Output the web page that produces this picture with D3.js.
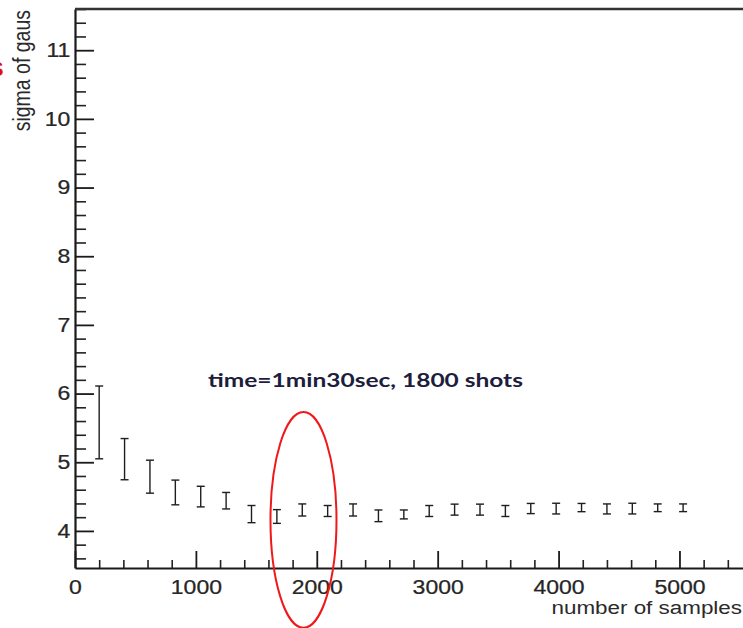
<!DOCTYPE html>
<html>
<head>
<meta charset="utf-8">
<script src="https://cdn.jsdelivr.net/npm/d3@7"></script>
<style>
  html, body { margin: 0; padding: 0; background: #fff; }
  svg { display: block; }
</style>
</head>
<body>
<svg id="chart" width="743" height="628"></svg>
<script>
// Sample counts (x) and fitted gaussian sigma with its uncertainty
const samples = [200, 410, 620, 830, 1040, 1250, 1460, 1670, 1880, 2090, 2300, 2510,
                 2720, 2930, 3140, 3350, 3560, 3770, 3980, 4190, 4400, 4610, 4820, 5030];
const sigma = [5.58, 5.045, 4.79, 4.56, 4.50, 4.44, 4.245, 4.21, 4.305, 4.29, 4.305, 4.22,
               4.24, 4.29, 4.31, 4.31, 4.29, 4.326, 4.325, 4.34, 4.32, 4.325, 4.337, 4.337];
const sigmaErr = [0.53, 0.30, 0.24, 0.18, 0.15, 0.12, 0.125, 0.10, 0.088, 0.08, 0.088, 0.085,
                  0.065, 0.08, 0.08, 0.08, 0.08, 0.074, 0.078, 0.06, 0.073, 0.078, 0.056, 0.056];

// Axis ticks
const xMajorTicks = [0, 1000, 2000, 3000, 4000, 5000];
const xTickLabels = ["0", "1000", "2000", "3000", "4000", "5000"];
const yMajorTicks = [4, 5, 6, 7, 8, 9, 10, 11];
const yTickLabels = ["4", "5", "6", "7", "8", "9", "10", "11"];

// Axis titles and note
const xTitle = "number of samples";
const yTitle = "sigma of gaus";
const noteText = "time=1min30sec, 1800 shots";

const svg = d3.select("#chart");
const axisFont = "'Liberation Sans', Arial, Helvetica, sans-serif";
const stretch = 1.18;   // horizontal stretch of the axis lettering

const x = d3.scaleLinear().domain([0, 5600]).range([75, 752]);
const y = d3.scaleLinear().domain([3.46, 11.6]).range([568, 9]);

// minor ticks
const xMinor = d3.range(0, 5601, 200).filter(v => v % 1000 !== 0);
const yMinor = d3.range(36, 117, 2).map(v => v / 10).filter(v => Math.abs(v - Math.round(v)) > 1e-6);

svg.append("g")
  .attr("transform", `translate(0,${y.range()[0]})`)
  .call(d3.axisBottom(x).tickValues(xMinor).tickSize(-8).tickSizeOuter(0).tickFormat(""))
  .call(g => g.select(".domain").remove())
  .call(g => g.selectAll("line").attr("stroke", "#222").attr("stroke-width", 1.6));

svg.append("g")
  .attr("transform", `translate(${x.range()[0]},0)`)
  .call(d3.axisLeft(y).tickValues(yMinor).tickSize(-11).tickSizeOuter(0).tickFormat(""))
  .call(g => g.select(".domain").remove())
  .call(g => g.selectAll("line").attr("stroke", "#222").attr("stroke-width", 1.6));

// major ticks with labels
const xAxis = svg.append("g")
  .attr("transform", `translate(0,${y.range()[0]})`)
  .call(d3.axisBottom(x).tickValues(xMajorTicks).tickSize(-17).tickSizeOuter(0).tickPadding(12)
        .tickFormat((d, i) => xTickLabels[i]));
xAxis.select(".domain").attr("stroke", "#1a1a1a").attr("stroke-width", 2.2);
xAxis.selectAll("line").attr("stroke", "#1a1a1a").attr("stroke-width", 1.8);
xAxis.selectAll("text")
  .attr("font-family", axisFont).attr("font-size", 19.5).attr("fill", "#262626")
  .attr("stroke", "#262626").attr("stroke-width", 0.25)
  .attr("transform", `scale(${stretch},1)`);

const yAxis = svg.append("g")
  .attr("transform", `translate(${x.range()[0]},0)`)
  .call(d3.axisLeft(y).tickValues(yMajorTicks).tickSize(-19).tickSizeOuter(0).tickPadding(4)
        .tickFormat((d, i) => yTickLabels[i]));
yAxis.select(".domain").attr("stroke", "#1a1a1a").attr("stroke-width", 2.2);
yAxis.selectAll("line").attr("stroke", "#1a1a1a").attr("stroke-width", 1.8);
yAxis.selectAll("text")
  .attr("font-family", axisFont).attr("font-size", 19.5).attr("fill", "#262626")
  .attr("stroke", "#262626").attr("stroke-width", 0.25)
  .attr("transform", `scale(${stretch},1)`);

// top edge of the frame
svg.append("line")
  .attr("x1", x.range()[0]).attr("x2", x.range()[1])
  .attr("y1", y.range()[1]).attr("y2", y.range()[1])
  .attr("stroke", "#333").attr("stroke-width", 2.4);

// axis titles
svg.append("text")
  .attr("transform", `translate(742,614) scale(${stretch},1)`)
  .attr("text-anchor", "end")
  .attr("font-family", axisFont).attr("font-size", 19).attr("fill", "#2a2a2a")
  .text(xTitle);

svg.append("text")
  .attr("transform", `translate(30,10) scale(${stretch},1) rotate(-90)`)
  .attr("text-anchor", "end")
  .attr("font-family", axisFont).attr("font-size", 19.5).attr("fill", "#2a2a2a")
  .text(yTitle);

// error bars
const capHalf = 4;
const bars = svg.append("g").attr("stroke", "#1e1e1e").attr("stroke-width", 1.4).attr("fill", "none");
samples.forEach((s, i) => {
  const cx = x(s);
  const top = y(sigma[i] + sigmaErr[i]);
  const bot = y(sigma[i] - sigmaErr[i]);
  bars.append("line").attr("x1", cx).attr("x2", cx).attr("y1", top).attr("y2", bot);
  bars.append("line").attr("x1", cx - capHalf).attr("x2", cx + capHalf).attr("y1", top).attr("y2", top);
  bars.append("line").attr("x1", cx - capHalf).attr("x2", cx + capHalf).attr("y1", bot).attr("y2", bot);
});

// highlight around the 1800-sample point
const ring = { x: 1890, y: 4.16, dx: 273, dy: 1.57 };
svg.append("ellipse")
  .attr("cx", x(ring.x)).attr("cy", y(ring.y))
  .attr("rx", x(ring.x + ring.dx) - x(ring.x))
  .attr("ry", y(ring.y) - y(ring.y + ring.dy))
  .attr("fill", "none").attr("stroke", "#f01818").attr("stroke-width", 2);

// note above the highlighted point
svg.append("text")
  .attr("x", 208).attr("y", 387)
  .attr("font-family", "Lato, 'Open Sans', sans-serif").attr("font-weight", "bold")
  .attr("font-size", 19).attr("fill", "#1d1d3c")
  .attr("textLength", 315).attr("lengthAdjust", "spacingAndGlyphs")
  .text(noteText);

// clipped red letter at the left edge
svg.append("text")
  .attr("x", 3.5).attr("y", 76)
  .attr("text-anchor", "end")
  .attr("font-family", axisFont).attr("font-weight", "bold")
  .attr("font-size", 21).attr("fill", "#e01010")
  .text("S");
</script>
</body>
</html>
